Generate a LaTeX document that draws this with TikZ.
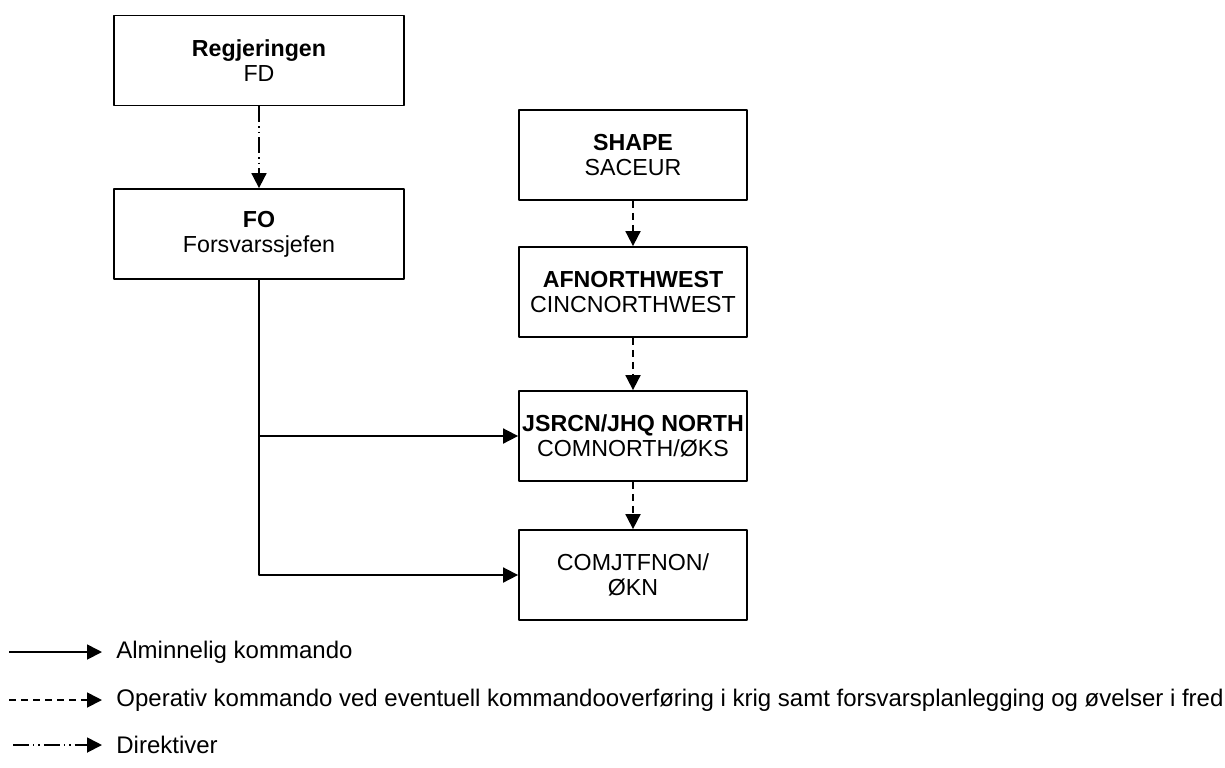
\documentclass[tikz,border=0pt]{standalone}
\usepackage{fontspec}
\setmainfont{Liberation Sans}
\usetikzlibrary{arrows.meta}
\tikzset{>={Triangle[length=7.5pt,width=7.5pt]}}
\tikzset{unit/.style={draw, line width=0.9pt, align=center, inner sep=0pt,
    minimum height=45pt, font=\fontsize{11.6}{12.5}\selectfont}}
\tikzset{leftunit/.style={unit, minimum width=145pt}}
\tikzset{rightunit/.style={unit, minimum width=114pt}}
\tikzset{cmd/.style={->, line width=0.9pt}}
\tikzset{opcmd/.style={->, line width=0.9pt, dash pattern=on 3.5pt off 2.5pt}}
\tikzset{dirline/.style={->, line width=0.9pt,
    dash pattern=on 8pt off 2pt on 0.7pt off 2pt on 0.7pt off 2pt}}
\tikzset{legendtext/.style={anchor=west, inner sep=0pt, font=\fontsize{12}{14}\selectfont}}

\begin{document}
\begin{tikzpicture}[x=0.5pt, y=-0.5pt, line join=round]
\useasboundingbox (0,0) rectangle (1225,767);

% left column
\node[leftunit] (reg) at (259,60.5) {\textbf{Regjeringen}\\FD};
\node[leftunit] (fo) at (259,234) {\textbf{FO}\\Forsvarssjefen};

% right column
\node[rightunit] (shape) at (633,155) {\textbf{SHAPE}\\SACEUR};
\node[rightunit] (afnw) at (633,292) {\textbf{AFNORTHWEST}\\CINCNORTHWEST};
\node[rightunit] (jhq) at (633,436) {\textbf{JSRCN/JHQ NORTH}\\COMNORTH/ØKS};
\node[rightunit] (jtf) at (633,575) {COMJTFNON/\\ØKN};

\draw[dirline] (reg) -- (fo);
\draw[opcmd] (shape) -- (afnw);
\draw[opcmd] (afnw) -- (jhq);
\draw[opcmd] (jhq) -- (jtf);
\draw[cmd] (fo.south) |- (jtf.west);
\draw[cmd] (fo.south |- jhq.west) -- (jhq.west);

% legend
\coordinate (l1a) at (9,652);  \coordinate (l1b) at (102,652);
\coordinate (l2a) at (9,700);  \coordinate (l2b) at (102,700);
\coordinate (l3a) at (13,745); \coordinate (l3b) at (102,745);
\draw[cmd] (l1a) -- (l1b);
\draw[opcmd] (l2a) -- (l2b);
\draw[dirline] (l3a) -- (l3b);
\node[legendtext] (t1) at (116,652) {Alminnelig kommando};
\node[legendtext] (t2) at (116,700) {Operativ kommando ved eventuell kommandooverføring i krig samt forsvarsplanlegging og øvelser i fred};
\node[legendtext] (t3) at (116,745) {Direktiver};
\end{tikzpicture}
\end{document}
